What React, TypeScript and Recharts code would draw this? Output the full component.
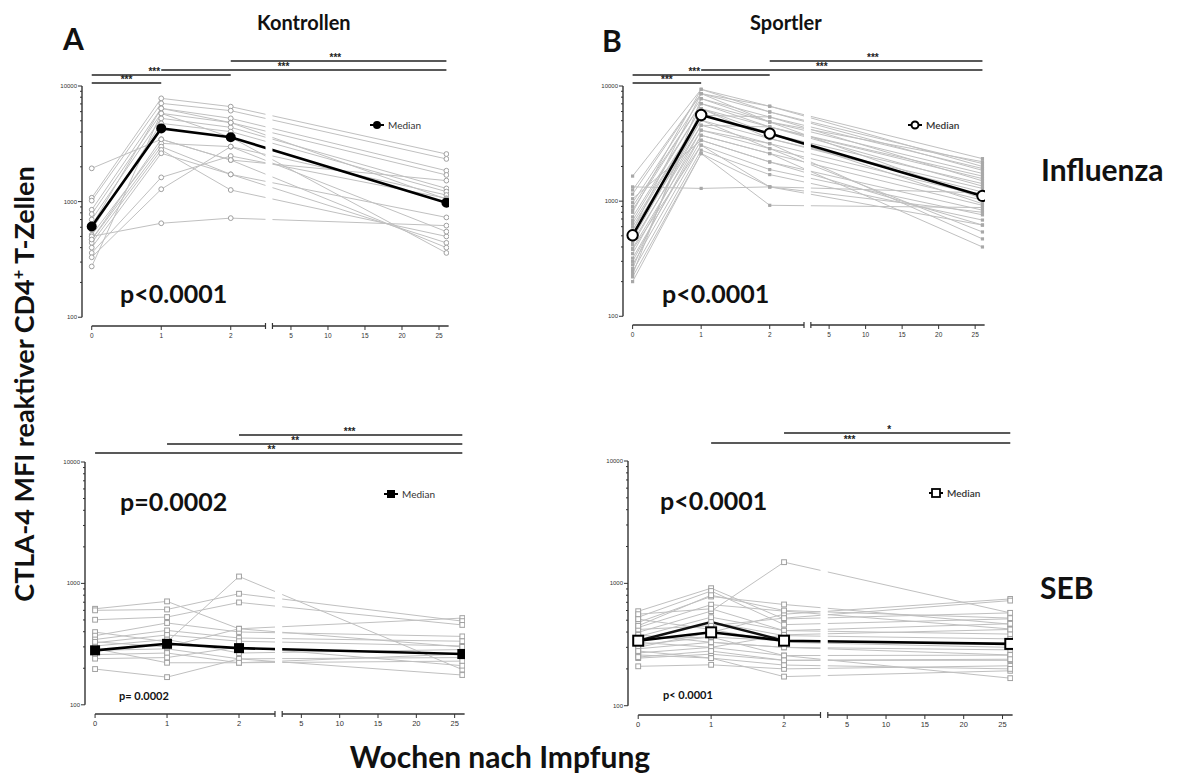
import React from 'react';
import {
  LineChart,
  Line,
  XAxis,
  YAxis,
  ReferenceLine,
  ReferenceArea,
  ReferenceDot,
} from 'recharts';

// Messzeitpunkte (Wochen nach Impfung) und Achsenbeschriftung
const weeks = [0, 1, 2, 26];
const xTickWeeks = [0, 1, 2, 5, 10, 15, 20, 25];
const yMajorTicks = [100, 1000, 10000];
const yMinorTicks = [200, 300, 400, 500, 600, 700, 800, 900, 2000, 3000, 4000, 5000, 6000, 7000, 8000, 9000];

// A – Kontrollen, Influenza (w0, w1, w2, w26)
const kontrollenInfluenza = [
  [1940, 3460, 2290, 1520],
  [1080, 7820, 6630, 2580],
  [1020, 7080, 6120, 2340],
  [850, 6410, 5250, 1850],
  [780, 5800, 4820, 1700],
  [700, 5250, 4390, 1300],
  [570, 4750, 4030, 1220],
  [515, 3190, 2990, 1140],
  [470, 2990, 1720, 730],
  [440, 2800, 1260, 500],
  [400, 2620, 1720, 440],
  [360, 1620, 2480, 1070],
  [330, 1280, 2990, 550],
  [500, 650, 720, 620],
  [470, 3460, 2290, 400],
  [275, 5800, 3600, 360],
  [620, 6410, 4820, 1050],
];
const kontrollenInfluenzaMedian = [610, 4300, 3600, 980];

// B – Sportler, Influenza
const sportlerInfluenza = [
  [1650, 9360, 6670, 2340],
  [1330, 1290, 1330, 1180],
  [1150, 8590, 5950, 2120],
  [970, 7770, 5380, 1920],
  [840, 7030, 4870, 1740],
  [730, 6360, 4410, 1570],
  [640, 5570, 3860, 1420],
  [560, 5040, 3490, 1290],
  [510, 4560, 3160, 1110],
  [445, 4130, 2860, 1020],
  [390, 3730, 2590, 920],
  [320, 3380, 2190, 835],
  [280, 3060, 1880, 760],
  [245, 2770, 1700, 685],
  [220, 2590, 1330, 620],
  [200, 2590, 920, 880],
  [1250, 8590, 4870, 2200],
  [900, 7030, 4410, 1650],
  [680, 6360, 3490, 1200],
  [600, 5570, 5380, 1500],
  [470, 5040, 2860, 540],
  [420, 4560, 4410, 1350],
  [350, 4130, 3160, 470],
  [300, 3730, 2590, 400],
  [260, 6360, 3860, 950],
  [230, 7770, 4870, 1050],
  [1050, 3380, 2190, 620],
  [800, 9360, 5950, 1850],
  [550, 8590, 6670, 2000],
  [380, 3060, 1330, 800],
];
const sportlerInfluenzaMedian = [505, 5600, 3860, 1110];

// C – Kontrollen, SEB
const kontrollenSeb = [
  [618, 711, 423, 518],
  [600, 610, 822, 489],
  [502, 528, 697, 455],
  [397, 330, 1140, 195],
  [371, 472, 398, 366],
  [345, 410, 355, 334],
  [324, 376, 334, 305],
  [305, 345, 267, 285],
  [281, 289, 239, 245],
  [259, 267, 222, 229],
  [240, 245, 300, 210],
  [197, 169, 239, 176],
  [290, 222, 222, 262],
  [330, 300, 423, 300],
];
const kontrollenSebMedian = [281, 318, 293, 262];

// D – Sportler, SEB
const sportlerSeb = [
  [592, 913, 512, 574],
  [529, 866, 460, 513],
  [480, 781, 672, 464],
  [436, 670, 593, 424],
  [398, 593, 1490, 574],
  [367, 529, 411, 385],
  [340, 483, 374, 352],
  [315, 364, 340, 320],
  [292, 330, 300, 286],
  [270, 300, 257, 259],
  [245, 264, 235, 235],
  [210, 216, 200, 212],
  [260, 245, 173, 193],
  [300, 398, 560, 746],
  [420, 450, 520, 723],
  [560, 620, 411, 468],
  [380, 330, 300, 260],
  [350, 364, 257, 168],
  [330, 300, 380, 420],
  [280, 245, 215, 200],
  [450, 800, 600, 520],
  [250, 280, 235, 240],
  [510, 420, 330, 300],
];
const sportlerSebMedian = [340, 398, 340, 320];
const sportlerSebUpper = [340, 483, 340];

// Signifikanzbalken
const sigKontrollenInfluenza = [
  { from: 0, to: 1, stars: '***' },
  { from: 0, to: 2, stars: '***' },
  { from: 1, to: 26, stars: '***' },
  { from: 2, to: 26, stars: '***' },
];
const sigSportlerInfluenza = [
  { from: 0, to: 1, stars: '***' },
  { from: 0, to: 2, stars: '***' },
  { from: 1, to: 26, stars: '***' },
  { from: 2, to: 26, stars: '***' },
];
const sigKontrollenSeb = [
  { from: 0, to: 26, stars: '**' },
  { from: 1, to: 26, stars: '**' },
  { from: 2, to: 26, stars: '***' },
];
const sigSportlerSeb = [
  { from: 1, to: 26, stars: '***' },
  { from: 2, to: 26, stars: '*' },
];

// broken x axis: 0..2.5 linear, then compressed segment
const BREAK_FROM = 2.5;
const BREAK_TO = 2.6;
const LATE_SCALE = 0.1065;
const pos = (w: number) => (w <= BREAK_FROM ? w : BREAK_TO + (w - BREAK_FROM) * LATE_SCALE);

const X_MIN = -0.14;
const X_MAX = 5.14;
const Y_MIN = 84;
const Y_MAX = 10000;
const AXIS_W = 30;
const TOP_M = 50;
const RIGHT_M = 10;
const X_AXIS_H = 20;

const xTicks = [...xTickWeeks.map(pos), BREAK_FROM, BREAK_TO];
const yTicks = [...yMajorTicks, ...yMinorTicks];

const AXIS_COLOR = '#333';
const GREY_LINE = '#c0c0c0';
const GREY_MARK = '#a0a0a0';

const XTick = (props: any) => {
  const { x, y, payload, fontSize } = props;
  const v = payload.value;
  if (Math.abs(v - BREAK_FROM) < 1e-6 || Math.abs(v - BREAK_TO) < 1e-6) {
    return <line x1={x} x2={x} y1={y - 3} y2={y + 3} stroke={AXIS_COLOR} strokeWidth={1.2} />;
  }
  const label = xTickWeeks.find((w) => Math.abs(pos(w) - v) < 1e-6);
  return (
    <g>
      <line x1={x} x2={x} y1={y} y2={y + 4} stroke={AXIS_COLOR} strokeWidth={1} />
      <text x={x} y={y + 12} textAnchor="middle" fontSize={fontSize} fill="#333" fontFamily="Liberation Sans, Arial, sans-serif">
        {label}
      </text>
    </g>
  );
};

const YTick = (props: any) => {
  const { x, y, payload } = props;
  const major = yMajorTicks.includes(payload.value);
  return (
    <g>
      <line x1={x} x2={x - (major ? 4 : 2)} y1={y} y2={y} stroke={AXIS_COLOR} strokeWidth={1} />
      {major && (
        <text x={x - 5} y={y + 2} textAnchor="end" fontSize={6} fill="#333" fontFamily="Liberation Sans, Arial, sans-serif">
          {payload.value}
        </text>
      )}
    </g>
  );
};

const subjectDot = (kind: string) => (p: any) => {
  const { cx, cy, index } = p;
  if (cx == null || cy == null) return <g key={index} />;
  if (kind === 'circle')
    return <circle key={index} cx={cx} cy={cy} r={2.4} fill="#fff" stroke={GREY_MARK} strokeWidth={1} />;
  if (kind === 'dot')
    return <rect key={index} x={cx - 1.6} y={cy - 1.6} width={3.2} height={3.2} fill="#a8a8a8" />;
  return <rect key={index} x={cx - 2.4} y={cy - 2.4} width={4.8} height={4.8} fill="#fff" stroke={GREY_MARK} strokeWidth={1} />;
};

const medianDot = (kind: string) => (p: any) => {
  const { cx, cy, index } = p;
  if (cx == null || cy == null) return <g key={index} />;
  if (kind === 'filledCircle') return <circle key={index} cx={cx} cy={cy} r={5} fill="#000" />;
  if (kind === 'openCircle')
    return <circle key={index} cx={cx} cy={cy} r={5.2} fill="#fff" stroke="#000" strokeWidth={2} />;
  if (kind === 'filledSquare') return <rect key={index} x={cx - 5} y={cy - 5} width={10} height={10} fill="#000" />;
  return <rect key={index} x={cx - 5} y={cy - 5} width={10} height={10} fill="#fff" stroke="#000" strokeWidth={2} />;
};

type Sig = { from: number; to: number; stars: string };
type Layout = {
  left: number;
  top: number;
  width: number;
  height: number;
  barRise: number[];
  starAt: number[];
  tickFont: number;
};

const Panel = ({
  layout,
  subjects,
  median,
  extra,
  sig,
  subjectKind,
  medianKind,
}: {
  layout: Layout;
  subjects: number[][];
  median: number[];
  extra?: number[];
  sig: Sig[];
  subjectKind: string;
  medianKind: string;
}) => {
  const { left, top, width, height } = layout;
  const pxPerDecade = height / Math.log10(Y_MAX / Y_MIN);
  const yAbove = (rise: number) => Y_MAX * Math.pow(10, rise / pxPerDecade);
  const toRows = (vals: number[]) => vals.map((v, i) => ({ pos: pos(weeks[i]), v }));

  return (
    <div style={{ position: 'absolute', left: left - AXIS_W, top: top - TOP_M }}>
      <LineChart
        width={AXIS_W + width + RIGHT_M}
        height={TOP_M + height + X_AXIS_H}
        margin={{ top: TOP_M, right: RIGHT_M, bottom: 0, left: 0 }}
      >
        <XAxis
          type="number"
          dataKey="pos"
          domain={[X_MIN, X_MAX]}
          allowDataOverflow
          ticks={xTicks}
          interval={0}
          axisLine={false}
          tickLine={false}
          tickSize={0}
          tickMargin={0}
          height={X_AXIS_H}
          tick={(p: any) => <XTick {...p} fontSize={layout.tickFont} />}
        />
        <YAxis
          type="number"
          scale="log"
          domain={[Y_MIN, Y_MAX]}
          allowDataOverflow
          ticks={yTicks}
          interval={0}
          axisLine={false}
          tickLine={false}
          tickSize={0}
          tickMargin={0}
          width={AXIS_W}
          tick={(p: any) => <YTick {...p} />}
        />
        {subjects.map((vals, i) => (
          <Line
            key={`s${i}`}
            data={toRows(vals)}
            dataKey="v"
            stroke={GREY_LINE}
            strokeWidth={1}
            dot={subjectDot(subjectKind)}
            activeDot={false}
            isAnimationActive={false}
          />
        ))}
        {extra && (
          <Line
            data={toRows(extra)}
            dataKey="v"
            stroke="#111"
            strokeWidth={2.5}
            dot={false}
            activeDot={false}
            isAnimationActive={false}
          />
        )}
        <Line
          data={toRows(median)}
          dataKey="v"
          stroke="#000"
          strokeWidth={2.6}
          dot={medianDot(medianKind)}
          activeDot={false}
          isAnimationActive={false}
        />
        <ReferenceArea
          x1={BREAK_FROM}
          x2={BREAK_TO}
          y1={90}
          y2={Y_MAX}
          fill="#fff"
          fillOpacity={1}
          stroke="none"
          ifOverflow="visible"
          zIndex={1000}
        />
        {/* axes drawn as segments (offset GraphPad style) */}
        <ReferenceLine
          segment={[{ x: X_MIN, y: 100 }, { x: X_MIN, y: Y_MAX }]}
          stroke={AXIS_COLOR}
          strokeWidth={1.4}
          ifOverflow="visible"
          zIndex={1100}
        />
        <ReferenceLine
          segment={[{ x: 0, y: Y_MIN }, { x: BREAK_FROM, y: Y_MIN }]}
          stroke={AXIS_COLOR}
          strokeWidth={1.4}
          ifOverflow="visible"
          zIndex={1100}
        />
        <ReferenceLine
          segment={[{ x: BREAK_TO, y: Y_MIN }, { x: pos(26.3), y: Y_MIN }]}
          stroke={AXIS_COLOR}
          strokeWidth={1.4}
          ifOverflow="visible"
          zIndex={1100}
        />
        {sig.map((s, i) => (
          <ReferenceLine
            key={`b${i}`}
            segment={[
              { x: pos(s.from), y: yAbove(layout.barRise[i]) },
              { x: pos(s.to), y: yAbove(layout.barRise[i]) },
            ]}
            stroke="#222"
            strokeWidth={1.6}
            ifOverflow="visible"
            zIndex={1100}
          />
        ))}
        {sig.map((s, i) => (
          <ReferenceDot
            key={`l${i}`}
            x={pos(layout.starAt[i])}
            y={yAbove(layout.barRise[i])}
            r={0}
            fill="none"
            stroke="none"
            ifOverflow="visible"
            zIndex={1100}
            label={{
              value: s.stars,
              position: 'top',
              offset: 0,
              fontSize: 10,
              fontWeight: 700,
              fill: '#222',
              fontFamily: 'Liberation Sans, Arial, sans-serif',
            }}
          />
        ))}
      </LineChart>
    </div>
  );
};

const layoutA: Layout = { left: 82, top: 86, width: 367, height: 240, barRise: [3, 11, 16, 25], starAt: [0.5, 0.9, 4, 11], tickFont: 6.5 };
const layoutB: Layout = { left: 623, top: 86, width: 362, height: 239, barRise: [3, 11, 16, 25], starAt: [0.5, 0.9, 4, 11], tickFont: 6.5 };
const layoutC: Layout = { left: 85, top: 462, width: 380, height: 252, barRise: [9, 18, 27], starAt: [2.45, 4.2, 11.3], tickFont: 7.5 };
const layoutD: Layout = { left: 628, top: 461, width: 385, height: 254, barRise: [18, 28], starAt: [5.3, 10.4], tickFont: 7.5 };

const FONT = 'Lato, "Open Sans", sans-serif';

const Txt = ({ x, y, size, weight = 700, color = '#111', children }: any) => (
  <div
    style={{
      position: 'absolute',
      left: x,
      top: y,
      fontSize: size,
      fontWeight: weight,
      color,
      lineHeight: 1,
      whiteSpace: 'nowrap',
      fontFamily: FONT,
    }}
  >
    {children}
  </div>
);

const LegendMark = ({ kind }: { kind: string }) => (
  <svg width={14} height={10} style={{ display: 'block' }}>
    <line x1={0} x2={14} y1={5} y2={5} stroke="#000" strokeWidth={2} />
    {kind === 'filledCircle' && <circle cx={7} cy={5} r={4} fill="#000" />}
    {kind === 'openCircle' && <circle cx={7} cy={5} r={3.5} fill="#fff" stroke="#000" strokeWidth={2} />}
    {kind === 'filledSquare' && <rect x={3} y={1} width={8} height={8} fill="#000" />}
    {kind === 'openSquare' && <rect x={3} y={1} width={8} height={8} fill="#fff" stroke="#000" strokeWidth={1.8} />}
  </svg>
);

const MedianLegend = ({ x, y, kind, weight }: any) => (
  <div style={{ position: 'absolute', left: x, top: y, display: 'flex', alignItems: 'center', gap: 4 }}>
    <LegendMark kind={kind} />
    <span style={{ fontSize: 10, fontFamily: FONT, fontWeight: weight, color: '#333', lineHeight: 1 }}>Median</span>
  </div>
);

export default function App() {
  return (
    <div
      style={{
        position: 'absolute',
        left: 0,
        top: 0,
        width: 1179,
        height: 778,
        background: '#fff',
        overflow: 'hidden',
        fontFamily: FONT,
      }}
    >
      <Panel layout={layoutA} subjects={kontrollenInfluenza} median={kontrollenInfluenzaMedian} sig={sigKontrollenInfluenza} subjectKind="circle" medianKind="filledCircle" />
      <Panel layout={layoutB} subjects={sportlerInfluenza} median={sportlerInfluenzaMedian} sig={sigSportlerInfluenza} subjectKind="dot" medianKind="openCircle" />
      <Panel layout={layoutC} subjects={kontrollenSeb} median={kontrollenSebMedian} sig={sigKontrollenSeb} subjectKind="square" medianKind="filledSquare" />
      <Panel layout={layoutD} subjects={sportlerSeb} median={sportlerSebMedian} extra={sportlerSebUpper} sig={sigSportlerSeb} subjectKind="square" medianKind="openSquare" />

      <Txt x={63} y={23} size={30}>A</Txt>
      <Txt x={602} y={25} size={30}>B</Txt>
      <Txt x={257} y={12} size={20}>Kontrollen</Txt>
      <Txt x={750} y={12} size={20}>Sportler</Txt>
      <Txt x={1041} y={154} size={30}>Influenza</Txt>
      <Txt x={1040} y={572} size={30}>SEB</Txt>

      <Txt x={120} y={281} size={25}>p&lt;0.0001</Txt>
      <Txt x={662} y={281} size={25}>p&lt;0.0001</Txt>
      <Txt x={120} y={489} size={25}>p=0.0002</Txt>
      <Txt x={660} y={488} size={25}>p&lt;0.0001</Txt>
      <Txt x={119} y={690} size={11}>p= 0.0002</Txt>
      <Txt x={663} y={689} size={11}>p&lt; 0.0001</Txt>

      <MedianLegend x={370} y={120} kind="filledCircle" weight={400} />
      <MedianLegend x={908} y={120} kind="openCircle" weight={600} />
      <MedianLegend x={384} y={489} kind="filledSquare" weight={400} />
      <MedianLegend x={929} y={488} kind="openSquare" weight={600} />

      <div
        style={{
          position: 'absolute',
          left: 23,
          top: 384,
          transform: 'translate(-50%, -50%) rotate(-90deg)',
          whiteSpace: 'nowrap',
          fontSize: 27,
          fontWeight: 700,
          color: '#111',
          fontFamily: FONT,
          lineHeight: 1,
        }}
      >
        CTLA-4 MFI reaktiver CD4<sup style={{ fontSize: '0.6em', lineHeight: 0 }}>+</sup> T-Zellen
      </div>
      <div
        style={{
          position: 'absolute',
          left: 500,
          top: 741,
          transform: 'translateX(-50%)',
          whiteSpace: 'nowrap',
          fontSize: 30,
          fontWeight: 700,
          color: '#111',
          fontFamily: FONT,
          lineHeight: 1,
        }}
      >
        Wochen nach Impfung
      </div>
    </div>
  );
}
